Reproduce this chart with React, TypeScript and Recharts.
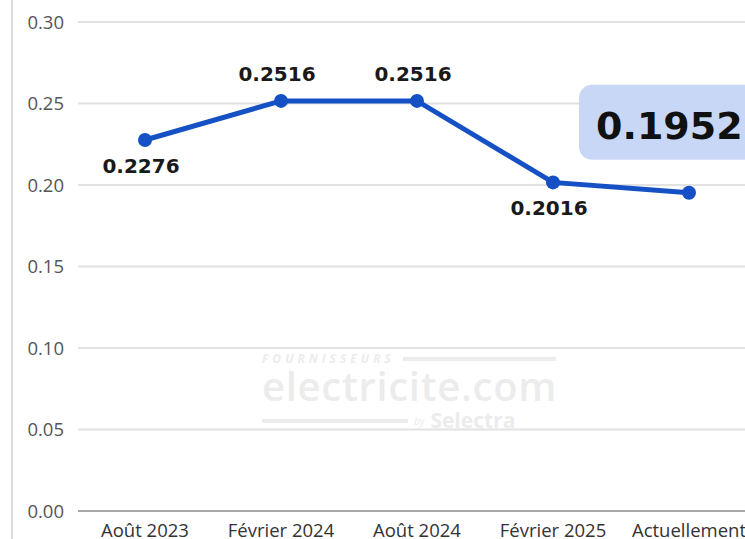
import React from "react";
import {
  LineChart,
  Line,
  XAxis,
  YAxis,
  CartesianGrid,
  LabelList,
} from "recharts";

const periods = ["Août 2023", "Février 2024", "Août 2024", "Février 2025", "Actuellement"];
const prices = [0.2276, 0.2516, 0.2516, 0.2016, 0.1952];
const yTicks = [0, 0.05, 0.1, 0.15, 0.2, 0.25, 0.3];

// where each value label sits relative to its point
const labelSide = ["below", "above", "above", "below", "badge"];

const data = periods.map((period, i) => ({ period, price: prices[i] }));

const BLUE = "#1551c4";
const LABEL_FONT = "'DejaVu Sans', sans-serif";
const AXIS_FONT = "'Open Sans', sans-serif";

const PointLabel = (props: any) => {
  const { x, y, value, index } = props;
  const side = labelSide[index];
  const text = Number(value).toFixed(4);

  if (side === "badge") {
    return (
      <g>
        <rect x={x - 110} y={y - 108} width={190} height={75} rx={13} fill="#c9d7f7" />
        <text
          x={x - 93}
          y={y - 67}
          dominantBaseline="central"
          fontFamily={LABEL_FONT}
          fontWeight={700}
          fontSize={38}
          fill="#111"
        >
          {text}
        </text>
      </g>
    );
  }

  return (
    <text
      x={x - 4}
      y={side === "above" ? y - 27 : y + 26}
      textAnchor="middle"
      dominantBaseline="central"
      fontFamily={LABEL_FONT}
      fontWeight={700}
      fontSize={20}
      fill="#1a1a1a"
    >
      {text}
    </text>
  );
};

const Watermark = () => (
  <div
    style={{
      position: "absolute",
      left: 262,
      top: 352,
      width: 300,
      color: "#ececec",
      fontFamily: "'Open Sans', sans-serif",
      pointerEvents: "none",
      lineHeight: 1,
    }}
  >
    <div style={{ display: "flex", alignItems: "center", gap: 8, height: 14 }}>
      <span style={{ fontSize: 12, fontStyle: "italic", fontWeight: 700, letterSpacing: 4 }}>
        FOURNISSEURS
      </span>
      <span style={{ flex: 1, height: 4, background: "#ececec", marginRight: 6 }} />
    </div>
    <div style={{ fontSize: 40, fontWeight: 600, letterSpacing: 0.7, height: 44 }}>
      electricite.com
    </div>
    <div style={{ display: "flex", alignItems: "center", gap: 6 }}>
      <span style={{ width: 146, height: 4, background: "#ececec" }} />
      <span style={{ fontSize: 10, fontStyle: "italic" }}>by</span>
      <span style={{ fontSize: 21, fontWeight: 700 }}>Selectra</span>
    </div>
  </div>
);

export default function App() {
  return (
    <div
      style={{
        position: "absolute",
        left: 0,
        top: 0,
        width: 745,
        height: 539,
        overflow: "hidden",
        background: "#fff",
      }}
    >
      <div
        style={{
          position: "absolute",
          left: 11,
          top: 0,
          width: 2,
          height: 539,
          background: "#dedede",
        }}
      />
      <Watermark />
      <div style={{ position: "absolute", left: 0, top: 0 }}>
        <LineChart
          width={757}
          height={539}
          data={data}
          margin={{ top: 22, right: 0, bottom: 0, left: 0 }}
        >
          <CartesianGrid vertical={false} stroke="#e2e2e2" strokeWidth={2} />
          <XAxis
            dataKey="period"
            axisLine={{ stroke: "#a8a8a8", strokeWidth: 2 }}
            tickLine={false}
            tickSize={0}
            tickMargin={13}
            height={28}
            interval={0}
            padding={{ left: 67, right: 68 }}
            tick={{ fontSize: 18.5, fill: "#333", fontFamily: AXIS_FONT }}
          />
          <YAxis
            domain={[0, 0.3]}
            ticks={yTicks}
            width={78}
            axisLine={false}
            tickLine={false}
            tickSize={0}
            tickMargin={14}
            tickFormatter={(v: number) => v.toFixed(2)}
            tick={{ fontSize: 18.5, fill: "#555", fontFamily: AXIS_FONT }}
          />
          <Line
            type="linear"
            dataKey="price"
            stroke={BLUE}
            strokeWidth={5}
            dot={{ r: 7, fill: BLUE, stroke: BLUE, strokeWidth: 0 }}
            activeDot={false}
            isAnimationActive={false}
          >
            <LabelList dataKey="price" content={PointLabel} />
          </Line>
        </LineChart>
      </div>
    </div>
  );
}
